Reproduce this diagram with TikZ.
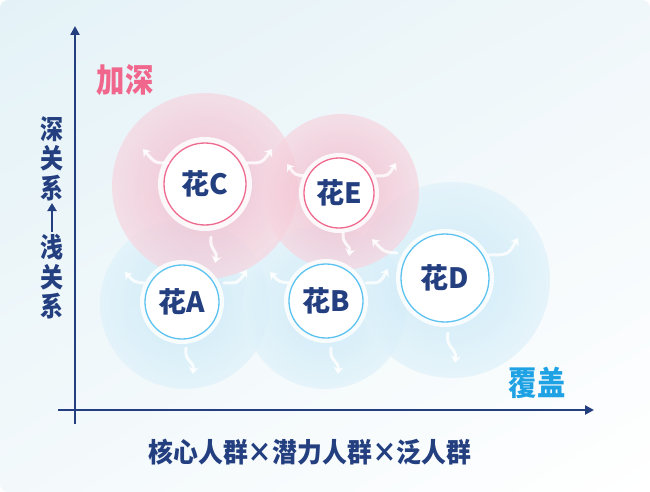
\documentclass[tikz,border=0pt]{standalone}
\usepackage{fontspec}
\newfontfamily\cjk{Noto Sans CJK SC}
\usetikzlibrary{arrows.meta,shadings}
\definecolor{navy}{HTML}{233F80}
\definecolor{pinkring}{HTML}{EE6A8E}
\definecolor{bluering}{HTML}{5CC3F0}
\definecolor{pinktxt}{HTML}{F0668C}
\definecolor{bluetxt}{HTML}{1EA2E4}
\definecolor{pinkin}{HTML}{F0AEC3}
\definecolor{pinkout}{HTML}{F6D6E0}
\definecolor{bluein}{HTML}{C0E5F6}
\definecolor{blueout}{HTML}{E0F2FA}
\definecolor{bgtl}{HTML}{E4F2F7}
\definecolor{bgtr}{HTML}{F0F7FA}
\definecolor{bgbl}{HTML}{F3F9FB}
\begin{document}
\begin{tikzpicture}[x=1pt,y=-1pt,
  flower/.style={circle, fill=white, line width=1.3pt, inner sep=0pt,
    minimum size=#1, font=\cjk\bfseries\fontsize{28}{28}\selectfont, text=navy},
  pinkflower/.style={flower=#1, draw=pinkring},
  blueflower/.style={flower=#1, draw=bluering},
  glow/.style={fill=white, fill opacity=0.85},
  pinkhalo/.style={inner color=pinkin, outer color=pinkout, fill opacity=0.72},
  bluehalo/.style={inner color=bluein, outer color=blueout, fill opacity=0.72},
  spark/.style={white, line width=3pt, opacity=0.8, line cap=round,
    -{Stealth[length=7pt,width=10pt]}},
  axisline/.style={navy, line width=2.4pt, -{Triangle[length=9pt,width=9pt]}},
  bigword/.style={font=\cjk\bfseries\fontsize{33}{33}\selectfont, xscale=0.86, inner sep=0pt},
  sideword/.style={font=\cjk\bfseries\fontsize{27}{27}\selectfont, text=navy, xscale=0.85, inner sep=0pt}
]
% background
\fill[white] (0,0) rectangle (650,492);
\shade[upper left=bgtl, upper right=bgtr, lower left=bgbl, lower right=white, rounded corners=8pt]
  (0,0) rectangle (650,492);
\useasboundingbox (0,0) rectangle (650,492);

% centres
\coordinate (cC) at (205,184);
\coordinate (cE) at (339,193);
\coordinate (cA) at (182,302);
\coordinate (cB) at (326,301);
\coordinate (cD) at (445,278);

% halos
\shade[bluehalo] (185,304) circle (85);
\shade[bluehalo] (325,307) circle (82);
\shade[bluehalo] (452,280) circle (98);
\shade[pinkhalo] (205,186) circle (93);
\shade[pinkhalo] (341,192) circle (78);

% glows
\fill[glow] (cC) circle (47);
\fill[glow] (cE) circle (40);
\fill[glow] (cA) circle (42);
\fill[glow] (cB) circle (42);
\fill[glow] (cD) circle (49);

% flowers
\node[pinkflower=82pt] (C) at (cC) {花C};
\node[pinkflower=70pt] (E) at (cE) {花E};
\node[blueflower=74pt] (A) at (cA) {花A};
\node[blueflower=74pt] (B) at (cB) {花B};
\node[blueflower=88pt] (D) at (cD) {花D};

% sparks
\draw[spark] (168,163) .. controls (155,163) .. (143,149);
\draw[spark] (247,163) .. controls (262,163) .. (272,149);
\draw[spark] (306,176) .. controls (295,175) .. (287,164);
\draw[spark] (376,176) .. controls (388,176) .. (396,163);
\draw[spark] (144,283) .. controls (134,282) .. (125,272);
\draw[spark] (224,283) .. controls (238,283) .. (247,270);
\draw[spark] (290,283) .. controls (279,282) .. (270,272);
\draw[spark] (366,283) .. controls (380,283) .. (388,269);
\draw[spark] (488,255) .. controls (508,255) .. (518,238);
\draw[spark] (397,253) .. controls (384,252) .. (372,239);
\draw[spark] (211,237) .. controls (209,250) and (218,250) .. (215,263);
\draw[spark] (343,233) .. controls (342,245) and (351,245) .. (349,256);
\draw[spark] (186,348) .. controls (184,362) and (194,360) .. (193,374);
\draw[spark] (331,348) .. controls (329,362) and (339,360) .. (338,374);
\draw[spark] (448,333) .. controls (445,348) and (457,348) .. (455,363);

% axes
\coordinate (yb) at (75,424);
\coordinate (yt) at (75,26);
\coordinate (xl) at (58,410);
\coordinate (xr) at (594,410);
\draw[axisline] (yb) -- (yt);
\draw[axisline] (xl) -- (xr);

% labels
\node[bigword, text=pinktxt] (deep) at (125,80) {加深};
\node[bigword, text=bluetxt] (cover) at (537,383) {覆盖};

\node[sideword] (s1) at (52,129) {深};
\node[sideword] (s2) at (52,158) {关};
\node[sideword] (s3) at (52,188) {系};
\node[sideword] (s4) at (52,247) {浅};
\node[sideword] (s5) at (52,277) {关};
\node[sideword] (s6) at (52,306) {系};
\coordinate (ab) at (52,232);
\coordinate (at) at (52,203);
\draw[navy, line width=2pt, -{Triangle[length=8pt,width=9pt]}] (ab) -- (at);

\node[font=\cjk\bfseries\fontsize{27}{27}\selectfont, text=navy, inner sep=0pt, xscale=0.92] (xlabel) at (310,452)
  {核心人群×潜力人群×泛人群};
\end{tikzpicture}
\end{document}
